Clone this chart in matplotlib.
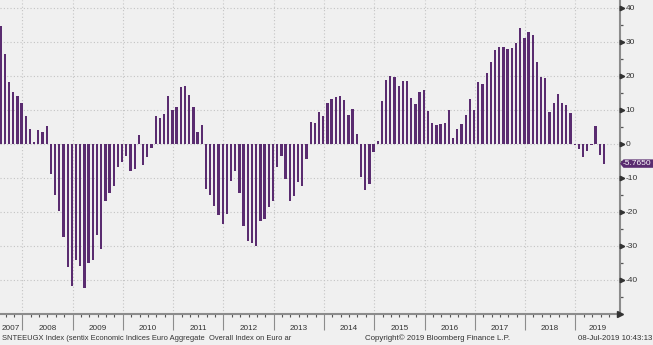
import matplotlib
matplotlib.use("Agg")
import matplotlib.pyplot as plt
import matplotlib.transforms as mtransforms
import matplotlib.patches as mpatches
import numpy as np

plt.rcParams['axes.unicode_minus'] = False
plt.rcParams['font.family'] = ['Liberation Sans', 'DejaVu Sans']

# Monthly values, Jul-2007 .. Jul-2019
v2007 = [34.8, 26.5, 18.1, 15.4, 14.2, 12.0]
v2008 = [8.3, 4.4, 0.6, 4.2, 3.5, 5.3, -8.9, -15.0, -19.8, -27.5, -36.1, -41.8]
v2009 = [-34.1, -35.8, -42.3, -35.1, -34.0, -26.8, -31.0, -16.8, -14.3, -12.3, -6.7, -5.2]
v2010 = [-3.4, -8.0, -7.3, 2.6, -6.1, -3.9, -1.1, 8.3, 7.6, 8.9, 14.1, 10.0]
v2011 = [10.8, 16.8, 17.1, 14.3, 10.9, 3.5, 5.5, -13.1, -15.0, -18.3, -20.9, -23.6]
v2012 = [-20.7, -10.8, -8.0, -14.3, -24.2, -28.5, -29.2, -30.0, -22.7, -22.0, -18.4, -16.7]
v2013 = [-6.7, -3.5, -10.2, -16.9, -15.2, -11.3, -12.3, -4.5, 6.6, 6.2, 9.3, 8.2]
v2014 = [12.0, 13.3, 13.9, 14.1, 13.0, 8.5, 10.2, 2.8, -9.6, -13.5, -11.7, -2.3]
v2015 = [1.0, 12.5, 18.8, 20.0, 19.7, 17.1, 18.5, 18.5, 13.6, 11.8, 15.3, 15.9]
v2016 = [9.7, 6.1, 5.6, 5.9, 6.3, 10.1, 1.9, 4.4, 5.8, 8.5, 13.2, 10.1]
v2017 = [18.3, 17.5, 21.0, 24.0, 27.5, 28.4, 28.4, 27.8, 28.2, 29.8, 34.1, 31.2]
v2018 = [32.9, 32.0, 24.1, 19.7, 19.4, 9.4, 12.2, 14.7, 12.2, 11.5, 9.1, -0.3]
v2019 = [-1.5, -3.7, -2.2, -0.3, 5.3, -3.3, -5.765]

values = np.array(v2007 + v2008 + v2009 + v2010 + v2011 + v2012 + v2013 +
                  v2014 + v2015 + v2016 + v2017 + v2018 + v2019)
years = list(range(2007, 2020))
y_ticks = [40, 30, 20, 10, 0, -10, -20, -30, -40]
last_label = "-5.7650"

# month index relative to Jan-2008
months = np.arange(len(values)) - 6
bar_x = months + 0.83

bg = '#f0f0f0'
purple = '#5a2c70'
axis_gray = '#8c8c8c'
grid_gray = '#c4c4c4'
txt = '#333333'

W, H = 653, 345
fig = plt.figure(figsize=(W / 100, H / 100), dpi=100, facecolor=bg)
ax_right_px, ax_bottom_px = 620, 314
ax = fig.add_axes([0, 1 - ax_bottom_px / H, ax_right_px / W, ax_bottom_px / H])
ax.set_facecolor(bg)

ax.bar(bar_x, values, width=0.55, color=purple, linewidth=0, zorder=3)

ax.set_xlim(-5.32, 142.65)
ax.set_ylim(-50, 42.35)

# grid
for yv in y_ticks:
    ax.axhline(yv, color=grid_gray, lw=0.8, ls=(0, (1, 2)), zorder=1)
year_starts = [12 * (y - 2008) for y in years[1:]]
for xs in year_starts:
    ax.axvline(xs, color=grid_gray, lw=0.8, ls=(0, (1, 2)), zorder=1)

for s in ['top', 'left']:
    ax.spines[s].set_visible(False)
for s in ['right', 'bottom']:
    ax.spines[s].set_color(axis_gray)
    ax.spines[s].set_linewidth(1.5)

# y axis on right
ax.yaxis.tick_right()
ax.set_yticks(y_ticks)
ax.set_yticklabels([str(t) for t in y_ticks], fontsize=6.0, color=txt)
ax.set_yticks(np.arange(-45, 45, 10), minor=True)
ax.tick_params(axis='y', which='major', direction='out', length=0, pad=4.0)
ax.tick_params(axis='y', which='minor', direction='out', length=2.5, width=0.9, color='#555555')
trans_ry = mtransforms.blended_transform_factory(ax.transAxes, ax.transData)
ax.plot([1.004] * len(y_ticks), y_ticks, marker='>', ls='none', ms=3.2,
        color=txt, transform=trans_ry, clip_on=False, zorder=5)

# x axis
ax.set_xticks(year_starts)
ax.set_xticklabels([])
ax.set_xticks(np.arange(-4, 143, 2), minor=True)
ax.tick_params(axis='x', which='major', direction='out', length=11.5, width=0.8, color=axis_gray)
ax.tick_params(axis='x', which='minor', direction='out', length=2, width=0.8, color='#555555')
ax.plot([1.0], [0], marker='>', ms=4, color=txt, transform=ax.transAxes,
        clip_on=False, zorder=5)

trans_yl = mtransforms.blended_transform_factory(ax.transData, fig.transFigure)
x0, x1 = ax.get_xlim()
for y in years:
    a = max(12 * (y - 2008), x0)
    b = min(12 * (y - 2007), x1)
    ax.text((a + b) / 2, 1 - 328.5 / H, str(y), transform=trans_yl, ha='center',
            va='center', fontsize=5.9, color=txt)

# last value label (arrow box at right edge)
ident = mtransforms.IdentityTransform()
yl = ax.transData.transform((0, values[-1]))[1]
xr = ax.transAxes.transform((1, 0))[0]
hh = 4.2
poly = mpatches.Polygon([(xr, yl), (xr + 3.5, yl + hh), (W, yl + hh), (W, yl - hh),
                         (xr + 3.5, yl - hh)], closed=True, fc=purple, ec='none',
                        transform=ident, zorder=6)
fig.add_artist(poly)
fig.text(W - 1.5, yl, last_label, transform=ident, ha='right', va='center',
         fontsize=6.0, color='white', zorder=7)

fy = 1 - 338.5 / H
fig.text(2 / W, fy,
         "SNTEEUGX Index (sentix Economic Indices Euro Aggregate  Overall Index on Euro ar",
         fontsize=5.4, color=txt, ha='left', va='center')
fig.text(365 / W, fy, "Copyright\u00a9 2019 Bloomberg Finance L.P.",
         fontsize=5.7, color=txt, ha='left', va='center')
fig.text(652.5 / W, fy, "08-Jul-2019 10:43:13",
         fontsize=5.65, color=txt, ha='right', va='center')

fig.savefig("out.png", dpi=100, facecolor=bg)
